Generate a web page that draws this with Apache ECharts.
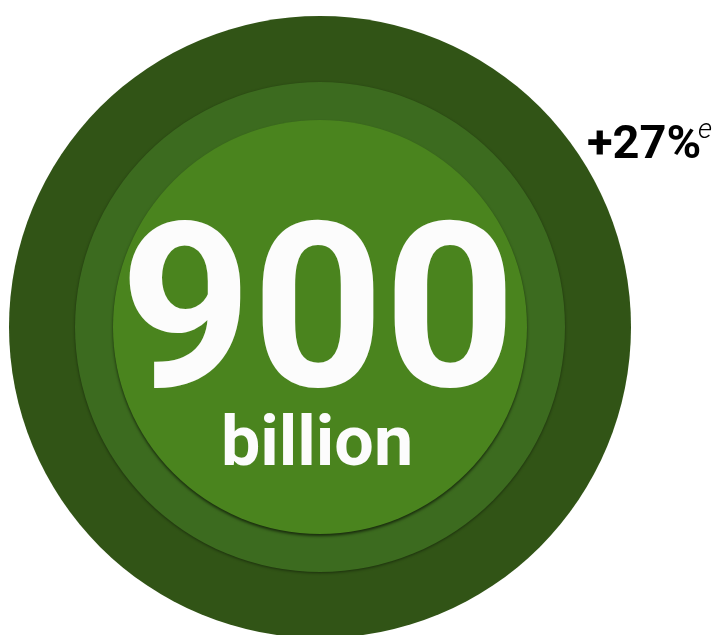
<!DOCTYPE html>
<html>
<head>
<meta charset="utf-8">
<script src="https://cdn.jsdelivr.net/npm/echarts@6/dist/echarts.min.js"></script>
<style>
  html, body { margin: 0; padding: 0; background: #ffffff; }
  #chart { width: 713px; height: 635px; }
</style>
</head>
<body>
<div id="chart"></div>
<script>
// ---- data ----
const rings = ['outer', 'middle', 'inner'];
const ringValues = [1, 1, 1];
const headlineValue = '900';
const headlineUnit = 'billion';
const changeLabel = '+27%';
const changeNote = 'e';

// ---- layout & style ----
const center = [320, 327];
const ringRadius = { outer: 311, middle: 245, inner: 207 };
const ringColor = { outer: '#315416', middle: '#3c6b1f', inner: '#4a841e' };
const ringShadow = {
  outer: { shadowBlur: 0, shadowColor: 'rgba(0,0,0,0)', shadowOffsetY: 0 },
  middle: { shadowBlur: 3, shadowColor: 'rgba(0,0,0,0.45)', shadowOffsetY: 1 },
  inner: { shadowBlur: 3, shadowColor: 'rgba(0,0,0,0.6)', shadowOffsetY: 2 }
};

const chart = echarts.init(document.getElementById('chart'), null, { renderer: 'canvas' });

const series = rings.map((name, i) => ({
  type: 'pie',
  name: name,
  silent: true,
  animation: false,
  center: center,
  radius: [0, ringRadius[name]],
  z: i + 1,
  label: { show: false },
  labelLine: { show: false },
  emphasis: { disabled: true },
  itemStyle: Object.assign({ color: ringColor[name], borderWidth: 0 }, ringShadow[name]),
  data: [{ name: name, value: ringValues[i] }]
}));

chart.setOption({
  backgroundColor: '#ffffff',
  animation: false,
  tooltip: { show: false },
  series: series,
  graphic: [
    {
      type: 'text', z: 100, x: 318, y: 328,
      style: {
        text: headlineValue, fill: '#fcfcfc',
        font: 'bold 230px Roboto', textAlign: 'center', textVerticalAlign: 'middle'
      }
    },
    {
      type: 'text', z: 100, x: 317, y: 447,
      style: {
        text: headlineUnit, fill: '#fcfcfc',
        font: 'bold 70px Roboto', textAlign: 'center', textVerticalAlign: 'middle'
      }
    },
    {
      type: 'text', z: 100, x: 587, y: 146,
      style: {
        text: changeLabel, fill: '#000000',
        font: 'bold 47px Roboto', textAlign: 'left', textVerticalAlign: 'middle'
      }
    },
    {
      type: 'text', z: 100, x: 698, y: 131,
      style: {
        text: changeNote, fill: '#000000',
        font: 'italic 300 28px Roboto', textAlign: 'left', textVerticalAlign: 'middle'
      }
    }
  ]
});
</script>
</body>
</html>
